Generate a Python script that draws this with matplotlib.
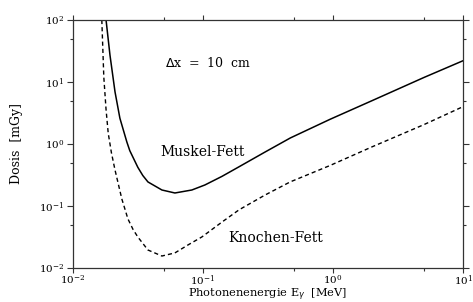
import matplotlib
matplotlib.use("Agg")
import matplotlib.pyplot as plt
from matplotlib.ticker import LogLocator, NullFormatter

# photon energy [MeV] and dose [mGy]
e_muskel = [0.0180, 0.0193, 0.0211, 0.0230, 0.0260, 0.0274, 0.0316, 0.0345, 0.0378,
            0.0484, 0.0609, 0.0822, 0.1035, 0.14, 0.19, 0.30, 0.47, 0.95, 2.0, 5.0, 10.0]
d_muskel = [100, 27, 6.9, 2.6, 1.08, 0.78, 0.42, 0.31, 0.244,
            0.181, 0.162, 0.181, 0.218, 0.30, 0.43, 0.74, 1.25, 2.5, 5.0, 11.8, 22]

e_knochen = [0.0167, 0.0173, 0.0180, 0.0187, 0.0198, 0.0211, 0.0238, 0.0265, 0.029,
             0.0316, 0.0378, 0.0484, 0.0609, 0.0767, 0.098, 0.14, 0.19, 0.30, 0.47,
             0.95, 2.0, 5.0, 10.0]
d_knochen = [100, 12, 3.6, 1.5, 0.72, 0.38, 0.13, 0.062, 0.042,
             0.0316, 0.0195, 0.0156, 0.0175, 0.0235, 0.0316, 0.055, 0.087, 0.15, 0.245,
             0.45, 0.90, 2.05, 4.0]

plt.rcParams["font.family"] = "DejaVu Serif"

fig = plt.figure(figsize=(4.73, 3.02), dpi=100)
ax = fig.add_axes([0.154, 0.1126, 0.825, 0.8214])

ax.plot(e_muskel, d_muskel, color="black", lw=1.1)
ax.plot(e_knochen, d_knochen, color="black", lw=1.0, linestyle=(0, (3, 2.2)))

ax.set_xscale("log")
ax.set_yscale("log")
ax.set_xlim(1e-2, 1e1)
ax.set_ylim(1e-2, 1e2)

for a in (ax.xaxis, ax.yaxis):
    a.set_major_locator(LogLocator(base=10, numticks=10))
    a.set_minor_locator(LogLocator(base=10, subs=[5.0], numticks=10))
    a.set_minor_formatter(NullFormatter())

ax.tick_params(which="both", direction="out", top=True, right=True,
               labelsize=7.5, color="#333333", width=0.8)
ax.tick_params(which="major", length=4.3)
ax.tick_params(which="minor", length=2.5)
ax.tick_params(axis="x", which="major", pad=0.5, length=3.5)
ax.tick_params(axis="y", which="major", pad=2)

for s in ax.spines.values():
    s.set_linewidth(0.9)
    s.set_color("#333333")

ax.set_xlabel(r"Photonenenergie E$_\gamma$  [MeV]", fontsize=8.2)
ax.set_ylabel("Dosis  [mGy]", fontsize=9)
ax.xaxis.set_label_coords(0.5, -0.077)
ax.yaxis.set_label_coords(-0.128, 0.5)

ax.text(0.051, 20.2, r"$\Delta$x  =  10  cm", fontsize=9, va="center")
ax.text(0.0467, 0.74, "Muskel-Fett", fontsize=10, va="center")
ax.text(0.156, 0.0305, "Knochen-Fett", fontsize=10, va="center")

fig.savefig("out.png", dpi=100, facecolor="white")
